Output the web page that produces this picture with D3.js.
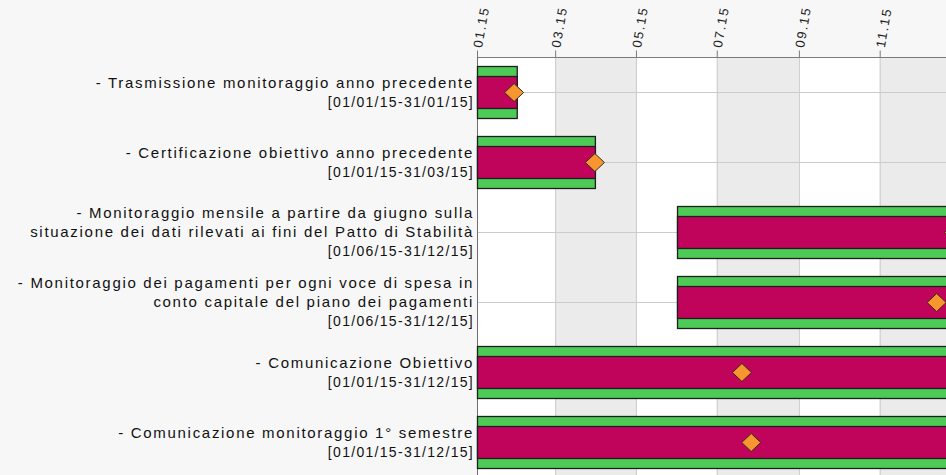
<!DOCTYPE html>
<html>
<head>
<meta charset="utf-8">
<script src="https://cdn.jsdelivr.net/npm/d3@7"></script>
<style>
  html, body { margin: 0; padding: 0; background: #f7f7f7; overflow: hidden; }
  svg { display: block; }
</style>
</head>
<body>
<div id="chart"></div>
<script>
// task names (one entry per text line)
const taskNames = [
  ["- Trasmissione monitoraggio anno precedente"],
  ["- Certificazione obiettivo anno precedente"],
  ["- Monitoraggio mensile a partire da giugno sulla", "situazione dei dati rilevati ai fini del Patto di Stabilità"],
  ["- Monitoraggio dei pagamenti per ogni voce di spesa in", "conto capitale del piano dei pagamenti"],
  ["- Comunicazione Obiettivo"],
  ["- Comunicazione monitoraggio 1° semestre"]
]
const taskStart = ["2015-01-01", "2015-01-01", "2015-06-01", "2015-06-01", "2015-01-01", "2015-01-01"]
const taskEnd = ["2015-01-31", "2015-03-31", "2015-12-31", "2015-12-31", "2015-12-31", "2015-12-31"]
const markerDate = ["2015-01-29", "2015-03-31", "2015-12-27", "2015-12-14", "2015-07-20", "2015-07-27"]
const axisDomain = ["2015-01-01", "2016-01-01"]

const parse = d3.utcParse("%Y-%m-%d")
const fmtLabel = d3.utcFormat("%d/%m/%y")
const tasks = taskNames.map((name, i) => ({
  name,
  start: parse(taskStart[i]),
  end: parse(taskEnd[i]),
  marker: parse(markerDate[i])
}))

const width = 946, height = 475
const margin = {top: 57, left: 477}
const bandH = 70

const x = d3.scaleUtc()
    .domain(axisDomain.map(parse))
    .range([margin.left, margin.left + 483.5])

const y = d3.scaleBand()
    .domain(d3.range(tasks.length))
    .range([margin.top, margin.top + bandH * tasks.length])

const svg = d3.create("svg")
    .attr("width", width)
    .attr("height", height)
    .attr("viewBox", [0, 0, width, height])
    .style("font-family", "'Liberation Sans', Arial, sans-serif")

// plot background with alternating 2-month bands
const ticks = x.ticks(d3.utcMonth.every(2)).filter(d => x(d) < width)
const plotBottom = margin.top + bandH * tasks.length
svg.append("rect")
    .attr("x", margin.left).attr("y", margin.top)
    .attr("width", x.range()[1] - margin.left)
    .attr("height", plotBottom - margin.top)
    .attr("fill", "#ffffff")

svg.append("g")
  .selectAll("rect")
  .data(ticks.filter((d, i) => i % 2 === 1))
  .join("rect")
    .attr("x", d => x(d))
    .attr("y", margin.top)
    .attr("width", d => x(d3.utcMonth.offset(d, 2)) - x(d))
    .attr("height", plotBottom - margin.top)
    .attr("fill", "#ebebeb")

// grid
svg.append("g")
  .selectAll("line")
  .data(ticks.slice(1))
  .join("line")
    .attr("x1", d => x(d) + 0.5).attr("x2", d => x(d) + 0.5)
    .attr("y1", margin.top).attr("y2", plotBottom)
    .attr("stroke", "#cbcbcb")

svg.append("g")
  .selectAll("line")
  .data(tasks)
  .join("line")
    .attr("x1", margin.left).attr("x2", width)
    .attr("y1", (d, i) => Math.round(y(i) + bandH / 2) + 0.5)
    .attr("y2", (d, i) => Math.round(y(i) + bandH / 2) + 0.5)
    .attr("stroke", "#cbcbcb")

// top time axis
const axis = svg.append("g")
    .attr("transform", `translate(0,${margin.top + 0.5})`)
    .call(d3.axisTop(x)
      .tickValues(ticks)
      .tickFormat(d3.utcFormat("%m.%y"))
      .tickSize(7)
      .tickSizeOuter(0))
axis.select(".domain").attr("stroke", "#7a7a7a").attr("d", `M${margin.left},0H${width}`)
axis.selectAll(".tick line").attr("stroke", "#7a7a7a")
axis.selectAll(".tick text")
    .attr("text-anchor", "start")
    .attr("x", 0).attr("y", 0).attr("dy", "0.35em")
    .attr("transform", "translate(0,-10) rotate(-80)")
    .attr("fill", "#222")
    .style("font-size", "13px")
    .style("letter-spacing", "1.8px")
    .style("font-family", "'Liberation Sans', Arial, sans-serif")

// left axis line
svg.append("line")
    .attr("x1", margin.left + 0.5).attr("x2", margin.left + 0.5)
    .attr("y1", margin.top).attr("y2", height)
    .attr("stroke", "#6e6e6e")

// bars
const outerH = 52, innerH = 32
const rows = svg.append("g")
  .selectAll("g")
  .data(tasks)
  .join("g")
    .attr("transform", (d, i) => `translate(0,${y(i) + bandH / 2})`)

rows.append("rect")
    .attr("x", d => x(d.start) + 0.5)
    .attr("y", -outerH / 2 + 0.5)
    .attr("width", d => x(d.end) - x(d.start))
    .attr("height", outerH)
    .attr("fill", "#4ecb57")
    .attr("stroke", "#1e1e1e")
    .attr("stroke-width", 1.3)

rows.append("rect")
    .attr("x", d => x(d.start) + 0.5)
    .attr("y", -innerH / 2 + 0.5)
    .attr("width", d => x(d.end) - x(d.start))
    .attr("height", innerH)
    .attr("fill", "#c0045c")
    .attr("stroke", "#1e1e1e")
    .attr("stroke-width", 1.3)

// progress marker (diamond)
const dw = 9.5, dh = 9
rows.append("path")
    .attr("d", `M0,${-dh}L${dw},0L0,${dh}L${-dw},0Z`)
    .attr("transform", d => `translate(${x(d.marker)},0.5)`)
    .attr("fill", "#f7962f")
    .attr("stroke", "#3a2a1a")

// task labels
const lineH = 19.5
const labels = svg.append("g")
  .selectAll("text")
  .data(tasks)
  .join("text")
    .attr("text-anchor", "end")
    .attr("fill", "#111")
    .style("font-size", "15px")
    .attr("transform", (d, i) => `translate(474,${y(i) + bandH / 2})`)

labels.each(function(d) {
  const lines = [...d.name, `[${fmtLabel(d.start)}-${fmtLabel(d.end)}]`]
  const t = d3.select(this)
  lines.forEach((l, j) => {
    const last = j === lines.length - 1
    t.append("tspan")
      .attr("x", 0)
      .attr("y", (j - (lines.length - 1) / 2) * lineH)
      .attr("dy", "0.35em")
      .style("font-size", last ? "14px" : null)
      .style("letter-spacing", last ? "1.3px" : "1.7px")
      .text(l)
  })
})

d3.select("#chart").node().appendChild(svg.node())
</script>
</body>
</html>
